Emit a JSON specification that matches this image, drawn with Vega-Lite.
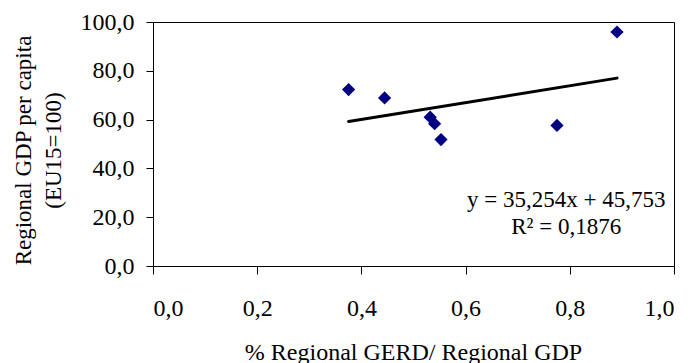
{
  "$schema": "https://vega.github.io/schema/vega-lite/v6.json",
  "autosize": {"type": "none"},
  "width": 521,
  "height": 244,
  "padding": {"left": 153, "top": 22, "right": 21, "bottom": 97},
  "background": "white",
  "config": {
    "font": "Liberation Serif",
    "view": {"stroke": "black", "strokeWidth": 1},
    "axis": {
      "grid": false,
      "domainColor": "black",
      "tickColor": "black",
      "labelColor": "black",
      "titleColor": "black",
      "labelFont": "Liberation Serif",
      "titleFont": "Liberation Serif",
      "titleFontWeight": "normal",
      "labelFontSize": 24,
      "titleFontSize": 23
    }
  },
  "datasets": {
    "points": [
      {"gerd": 0.3754, "gdp": 72.3},
      {"gerd": 0.4445, "gdp": 68.9},
      {"gerd": 0.532, "gdp": 61.0},
      {"gerd": 0.5405, "gdp": 58.3},
      {"gerd": 0.5528, "gdp": 51.8},
      {"gerd": 0.7754, "gdp": 57.6},
      {"gerd": 0.8906, "gdp": 95.9}
    ],
    "notes": [
      {"gerd": 0.793, "gdp": 24.0, "label": "y = 35,254x + 45,753"},
      {"gerd": 0.793, "gdp": 12.95, "label": "R² = 0,1876"}
    ]
  },
  "layer": [
    {
      "data": {"name": "points"},
      "transform": [{"regression": "gdp", "on": "gerd", "method": "linear"}],
      "mark": {"type": "line", "color": "black", "strokeWidth": 3, "strokeCap": "round"},
      "encoding": {
        "x": {"field": "gerd", "type": "quantitative"},
        "y": {"field": "gdp", "type": "quantitative"}
      }
    },
    {
      "data": {"name": "points"},
      "mark": {"type": "point", "shape": "diamond", "filled": true, "color": "#000080", "opacity": 1, "size": 175},
      "encoding": {
        "x": {
          "field": "gerd", "type": "quantitative",
          "scale": {"domain": [0, 1], "nice": false, "zero": false},
          "axis": {
            "values": [0, 0.2, 0.4, 0.6, 0.8, 1.0],
            "labelExpr": "replace(format(datum.value, '.1f'), '.', ',')",
            "tickSize": 8,
            "labelPadding": 41,
            "labelBaseline": "alphabetic",
            "title": "% Regional GERD/ Regional GDP",
            "titleFontSize": 24,
            "titleBaseline": "alphabetic",
            "titleY": 93,
            "titleX": 260
          }
        },
        "y": {
          "field": "gdp", "type": "quantitative",
          "scale": {"domain": [0, 100], "nice": false},
          "axis": {
            "values": [0, 20, 40, 60, 80, 100],
            "labelExpr": "replace(format(datum.value, '.1f'), '.', ',')",
            "tickSize": 7,
            "labelPadding": 12,
            "title": ["Regional GDP per capita", "(EU15=100)"],
            "titleAngle": -90,
            "titleAlign": "center",
            "titleBaseline": "top",
            "titleLineHeight": 30,
            "titleX": -141,
            "titleY": 128
          }
        }
      }
    },
    {
      "data": {"name": "notes"},
      "mark": {"type": "text", "align": "center", "baseline": "alphabetic", "fontSize": 23, "font": "Liberation Serif", "color": "black"},
      "encoding": {
        "x": {"field": "gerd", "type": "quantitative"},
        "y": {"field": "gdp", "type": "quantitative"},
        "text": {"field": "label"}
      }
    }
  ]
}
